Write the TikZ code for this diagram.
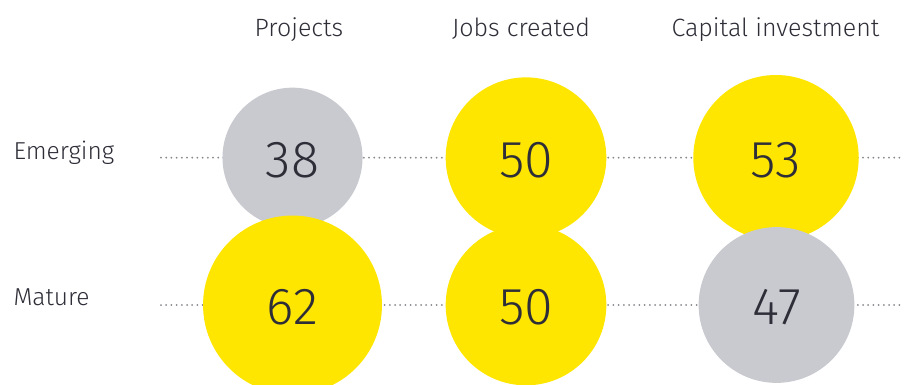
\documentclass[tikz,border=0pt]{standalone}
\usepackage{fontspec}
\setmainfont{Fira Sans Light}
\usepackage{tikz}

\definecolor{eyyellow}{HTML}{FFE600}
\definecolor{eygrey}{HTML}{C9CAD0}
\definecolor{eydark}{HTML}{2E2E38}
\definecolor{eydots}{HTML}{85858C}

\tikzset{
  bubble/.style = {circle, inner sep = 0pt, text = eydark, font = \fontsize{52}{52}\selectfont},
  header/.style = {anchor = base, text = eydark, font = \fontsize{25}{25}\selectfont},
  rowlabel/.style = {anchor = base west, text = eydark, font = \fontsize{24.5}{24.5}\selectfont},
  guide/.style = {color = eydots, line width = 2pt, line cap = round, dash pattern = on 0pt off 5.2pt}
}

\begin{document}
\begin{tikzpicture}[x = 1pt, y = -1pt]
                \useasboundingbox (0, 0) rectangle (904, 385);

                \node [header] (projects) at (299, 37) {Projects};
                \node [header] (jobs) at (521, 37) {Jobs created};
                \node [header] (capital) at (775.5, 37) {Capital investment};

                \node [rowlabel] (emerging) at (10, 159) {Emerging};
                \node [rowlabel] (mature) at (10, 305) {Mature};

                \coordinate (emstart) at (161, 157.7);
                \coordinate (emend) at (904, 157.7);
                \coordinate (mastart) at (161, 305);
                \coordinate (maend) at (904, 305);
                \draw [guide] (emstart) -- (emend);
                \draw [guide] (mastart) -- (maend);

                \foreach \name/\x/\v/\c in {em1/292.5/38/eygrey, em2/526/50/eyyellow, em3/776/53/eyyellow}
                \node [bubble, fill = \c, minimum size = {2 * 11.36 * sqrt(\v) * 1pt}] (\name) at (\x, 157.7) {};

                \foreach \name/\x/\v/\c in {ma1/292.5/62/eyyellow, ma2/526/50/eyyellow, ma3/776.5/47/eygrey}
                \node [bubble, fill = \c, minimum size = {2 * 11.36 * sqrt(\v) * 1pt}] (\name) at (\x, 305) {};

                \foreach \name/\v in {em1/38, em2/50, em3/53, ma1/62, ma2/50, ma3/47}
                \node [bubble, anchor = base] at ([yshift = -19.8pt] \name.center) {\v};
            \end{tikzpicture}
\end{document}
